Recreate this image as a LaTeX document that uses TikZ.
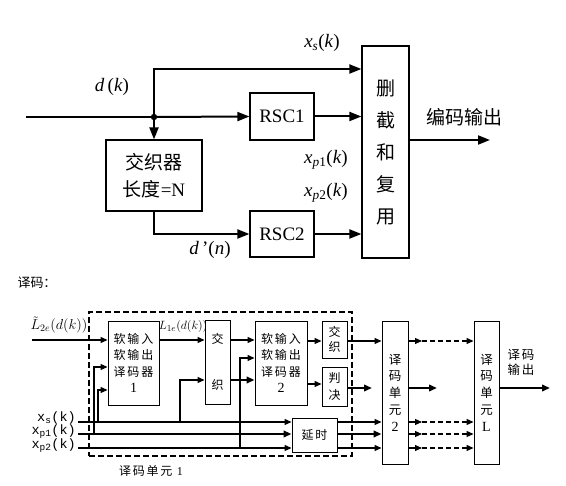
\documentclass[tikz,border=0pt]{standalone}
\usepackage{fontspec}
\setmainfont{Liberation Serif}
\newfontfamily\cjk{Noto Sans CJK SC}
\newfontfamily\cjkw[LetterSpace=15]{Noto Sans CJK SC}
\newfontfamily\monof{Liberation Mono}
\usetikzlibrary{arrows.meta}
\newcommand\mi[1]{\textit{#1}}
\begin{document}
\begin{tikzpicture}[x=1pt,y=-1pt,
 box/.style={draw, line width=1.2pt, fill=white, inner sep=0pt},
 sbox/.style={draw, line width=0.9pt, fill=white, inner sep=0pt},
 arr/.style={line width=2pt, -{Triangle[length=12pt,width=9pt]}},
 tline/.style={line width=2pt},
 sarr/.style={line width=1.1pt, -{Triangle[length=7pt,width=6pt]}},
 karr/.style={line width=2pt, -{Triangle[length=8pt,width=6.5pt]}},
 big/.style={font=\fontsize{19}{27}\selectfont},
 lab/.style={inner sep=0pt},
 small/.style={font=\cjkw\fontsize{12}{16.5}\selectfont, align=center},
 frame/.style={draw, line width=2pt, dash pattern=on 6pt off 3pt, inner sep=0pt},
 dsh/.style={dash pattern=on 5pt off 3pt}
]
\useasboundingbox (0,0) rectangle (566,486);
% ---------------- top: encoder ----------------
\coordinate (in) at (26,117);
\coordinate (j) at (154,117);
\coordinate (ys) at (0,69);
\coordinate (out) at (490,140);
\node[box, minimum width=96pt, minimum height=71pt, align=center, big] (il) at (154,175.5)
  {{\cjk 交织器}\\{\cjk 长度}=N};
\node[box, minimum width=64pt, minimum height=47pt, big] (rsc1) at (282,116.5) {RSC1};
\node[box, minimum width=64pt, minimum height=46pt, big] (rsc2) at (282,234) {RSC2};
\node[box, minimum width=47pt, minimum height=212pt, align=center,
      font=\cjk\fontsize{19}{32}\selectfont] (mux) at (385.5,152) {删\\截\\和\\复\\用};
\draw[tline] (in) -- (j);
\draw[arr] (j) -- (rsc1.west);
\draw[arr] (j) |- (mux.west |- ys);
\draw[arr] (j) -- (il.north);
\draw[arr] (rsc1.east) -- (mux.west |- rsc1.east);
\draw[arr] (il.south) |- (rsc2.west);
\draw[arr] (rsc2.east) -- (mux.west |- rsc2.east);
\draw[arr] (mux.east |- out) -- (out);
\fill (j) circle (3.2pt);
\node[lab, big] (ldk) at (112,87) {\mi{d}\,(\mi{k})};
\node[lab, big] (lxs) at (322,43) {\mi{x}\textsubscript{\mi{s}}(\mi{k})};
\node[lab, big] (lxp1) at (326,160) {\mi{x}\textsubscript{\mi{p}1}(\mi{k})};
\node[lab, big] (lxp2) at (326,193) {\mi{x}\textsubscript{\mi{p}2}(\mi{k})};
\node[lab, big] (ldn) at (210,250) {\mi{d}\,'(\mi{n})};
\node[lab, font=\cjk\fontsize{19}{27}\selectfont] (lout) at (464,117) {编码输出};
% ---------------- bottom: decoder ----------------
\node[lab, font=\cjk\fontsize{13}{15}\selectfont] (title) at (37,283) {译码：};
\node[frame, minimum width=263pt, minimum height=144pt] (unit1) at (220.5,384) {};
\node[lab, small] (unitlab) at (151,471) {译码单元 {\rmfamily 1}};
\node[sbox, minimum width=51pt, minimum height=84pt, small] (dec1) at (133.5,363)
  {软输入\\软输出\\译码器\\{\rmfamily\fontsize{14}{16.5}\selectfont 1}};
\node[sbox, minimum width=25pt, minimum height=84pt, font=\cjk\fontsize{12}{46}\selectfont, align=center]
  (il1) at (217.5,362) {交\\织};
\node[sbox, minimum width=52pt, minimum height=84pt, small] (dec2) at (281,363)
  {软输入\\软输出\\译码器\\{\rmfamily\fontsize{14}{16.5}\selectfont 2}};
\node[sbox, minimum width=25pt, minimum height=37pt, font=\cjk\fontsize{12}{15}\selectfont, align=center]
  (il2) at (334.5,339.5) {交\\织};
\node[sbox, minimum width=25pt, minimum height=39pt, font=\cjk\fontsize{12}{17}\selectfont, align=center]
  (pj) at (334.5,386.5) {判\\决};
\node[sbox, minimum width=45pt, minimum height=34pt, small] (delay) at (314.5,435) {延时};
\node[sbox, minimum width=26pt, minimum height=143pt, font=\cjk\fontsize{12.5}{16.7}\selectfont, align=center]
  (du2) at (395,392.5) {译\\码\\单\\元\\{\rmfamily\fontsize{14}{16.7}\selectfont 2}};
\node[sbox, minimum width=25pt, minimum height=143pt, font=\cjk\fontsize{12.5}{16.7}\selectfont, align=center]
  (duL) at (486.5,392.5) {译\\码\\单\\元\\{\rmfamily\fontsize{14}{16.7}\selectfont L}};
% labels
\node[lab, font=\fontsize{14}{16}\selectfont] (lL2) at (59,325) {$\tilde{L}_{2e}(d(k))$};
\node[lab, font=\fontsize{12.5}{14}\selectfont] (lL1) at (183,327) {$L_{1e}(d(k))$};
\node[lab, anchor=east, font=\monof\fontsize{13.5}{15}\selectfont] (lxsb) at (76,418) {x\textsubscript{s}(k)};
\node[lab, anchor=east, font=\monof\fontsize{13.5}{15}\selectfont] (lxp1b) at (76,432) {x\textsubscript{p1}(k)};
\node[lab, anchor=east, font=\monof\fontsize{13.5}{15}\selectfont] (lxp2b) at (76,446) {x\textsubscript{p2}(k)};
\node[lab, font=\cjkw\fontsize{12.5}{15}\selectfont, align=center] (lres) at (521,362) {译码\\输出};
% coordinates
\coordinate (lin) at (32,340);
\coordinate (s0) at (78,422);
\coordinate (p10) at (78,434);
\coordinate (p20) at (78,448);
\coordinate (bA) at (94,367);
\coordinate (bB) at (98,390);
\coordinate (bC) at (180,380);
\coordinate (bD) at (240,358);
\coordinate (yA) at (0,340);
\coordinate (yB) at (0,380);
\coordinate (yC) at (0,384);
\coordinate (yD) at (0,341);
\coordinate (pjout) at (372,388);
\coordinate (du2out) at (437,388);
\coordinate (res) at (550,388);
% connectors
\draw[sarr] (lin) -- (dec1.west |- lin);
\draw[sarr] (s0) -- (delay.west |- s0);
\draw[karr] (p10) -- (delay.west |- p10);
\draw[sarr] (p20) -- (delay.west |- p20);
\draw[sarr] (bA |- p10) -- (bA) -- (dec1.west |- bA);
\draw[sarr] (bB |- s0) -- (bB) -- (dec1.west |- bB);
\draw[sarr] (dec1.east |- yA) -- (il1.west |- yA);
\draw[sarr] (bC |- s0) -- (bC) -- (il1.west |- bC);
\draw[sarr] (il1.east |- yA) -- (dec2.west |- yA);
\draw[karr] (il1.east |- yB) -- (dec2.west |- yB);
\draw[sarr] (bD |- p20) -- (bD) -- (dec2.west |- bD);
\draw[sarr] (dec2.east |- yD) -- (il2.west |- yD);
\draw[sarr] (dec2.east |- yC) -- (pj.west |- yC);
\draw[sarr] (il2.east |- yD) -- (du2.west |- yD);
\draw[karr] (pj.east |- pjout) -- (pjout);
\draw[sarr] (delay.east |- s0) -- (du2.west |- s0);
\draw[karr] (delay.east |- p10) -- (du2.west |- p10);
\draw[sarr] (delay.east |- p20) -- (du2.west |- p20);
\foreach \c in {yD, s0, p10, p20} {
  \draw[sarr] (du2.east |- \c) -- (422,0 |- \c) coordinate (m\c);
  \draw[sarr, dsh] (m\c) -- (duL.west |- \c);
}
\draw[karr] (du2.east |- du2out) -- (du2out);
\draw[karr] (duL.east |- res) -- (res);
\end{tikzpicture}
\end{document}
